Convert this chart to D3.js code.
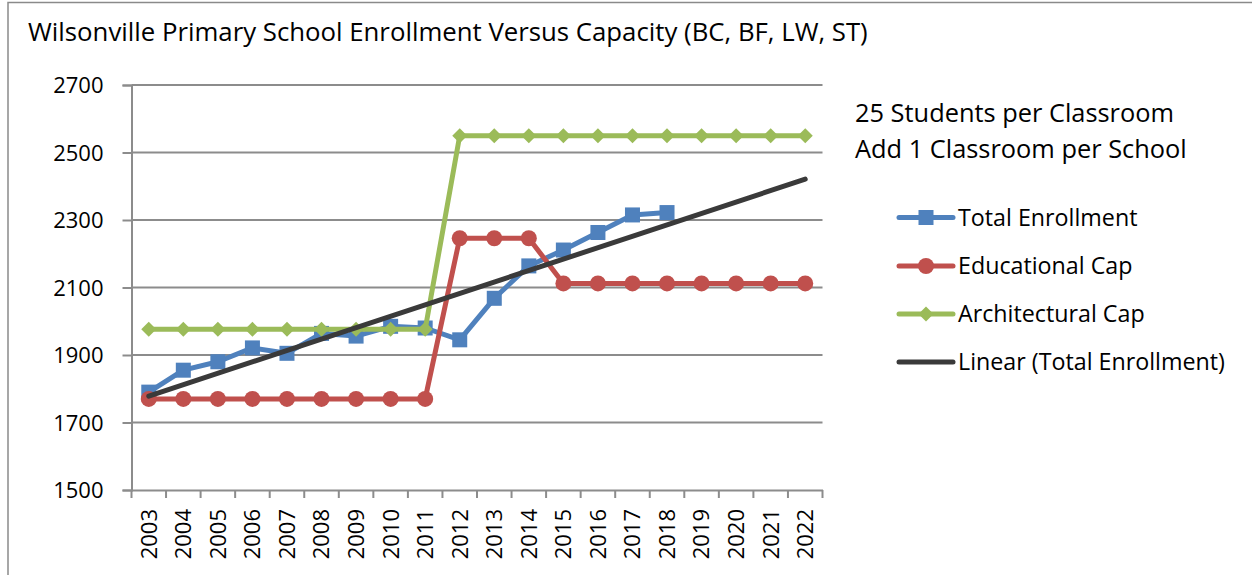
<!DOCTYPE html>
<html>
<head>
<meta charset="utf-8">
<script src="https://cdn.jsdelivr.net/npm/d3@7"></script>
<style>
  html, body { margin: 0; padding: 0; background: #fff; }
  svg { display: block; }
  text { font-family: "Open Sans", Lato, sans-serif; fill: #000; }
</style>
</head>
<body>
<svg id="chart" width="1252" height="575"></svg>
<script>
// ---- data ----
const years = ["2003","2004","2005","2006","2007","2008","2009","2010","2011","2012",
               "2013","2014","2015","2016","2017","2018","2019","2020","2021","2022"];
const totalEnrollment = [1790,1855,1880,1921,1905,1964,1956,1985,1980,1945,
                         2068,2164,2211,2263,2315,2322];
const educationalCap = [1770,1770,1770,1770,1770,1770,1770,1770,1770,2246,
                        2246,2246,2112,2112,2112,2112,2112,2112,2112,2112];
const architecturalCap = [1976,1976,1976,1976,1976,1976,1976,1976,1976,2550,
                          2550,2550,2550,2550,2550,2550,2550,2550,2550,2550];
const trendYears = ["2003","2022"];
const trendValues = [1778, 2421];
const yTicks = [1500,1700,1900,2100,2300,2500,2700];
const seriesNames = ["Total Enrollment","Educational Cap","Architectural Cap","Linear (Total Enrollment)"];
const titleText = "Wilsonville Primary School Enrollment Versus Capacity (BC, BF, LW, ST)";
const noteLines = ["25 Students per Classroom","Add 1 Classroom per School"];

// ---- layout ----
const svg = d3.select("#chart");
const plot = {left: 131.5, right: 822.5, top: 85, bottom: 490};
const blue = "#4F81BD", red = "#C0504D", green = "#9BBB59", dark = "#3a3a3a";
const gridColor = "#8c8c8c";

// fit a text element's font size so that its width matches a target
function fitSize(sel, target, base) {
  sel.attr("font-size", base);
  const w = sel.node().getComputedTextLength();
  const s = base * target / w;
  return s;
}

// outer border
svg.append("rect").attr("x", 8).attr("y", 2.5).attr("width", 1400).attr("height", 700)
  .attr("fill", "none").attr("stroke", "#8a8a8a").attr("stroke-width", 1.5);

const x = d3.scaleBand().domain(years).range([plot.left, plot.right]).padding(0);
const xc = d => x(d) + x.bandwidth() / 2;
const y = d3.scaleLinear().domain([1500, 2700]).range([plot.bottom, plot.top]);

// gridlines
svg.append("g").selectAll("line").data(yTicks.slice(1)).join("line")
  .attr("x1", plot.left).attr("x2", plot.right)
  .attr("y1", d => y(d)).attr("y2", d => y(d))
  .attr("stroke", gridColor).attr("stroke-width", 2);

// y axis
const yAxis = svg.append("g").attr("transform", `translate(${plot.left},0)`)
  .call(d3.axisLeft(y).tickValues(yTicks).tickSize(9).tickPadding(19).tickFormat(d3.format("d")));
yAxis.select(".domain").attr("stroke", gridColor).attr("stroke-width", 2);
yAxis.selectAll(".tick line").attr("stroke", gridColor).attr("stroke-width", 2);
yAxis.selectAll(".tick text").attr("font-family", "Lato, sans-serif").attr("font-size", 22)
  .attr("fill", "#000").attr("dy", "0.35em");

// x axis
const xAxis = svg.append("g").attr("transform", `translate(0,${plot.bottom})`)
  .call(d3.axisBottom(x).tickSize(0).tickFormat(d => d));
xAxis.select(".domain").attr("stroke", gridColor).attr("stroke-width", 2);
xAxis.selectAll(".tick line").remove();
svg.append("g").selectAll("line").data(years.concat(["end"])).join("line")
  .attr("x1", (d, i) => i < years.length ? x(d) : plot.right)
  .attr("x2", (d, i) => i < years.length ? x(d) : plot.right)
  .attr("y1", plot.bottom).attr("y2", plot.bottom + 8)
  .attr("stroke", gridColor).attr("stroke-width", 2);
xAxis.selectAll(".tick text")
  .attr("font-family", "'DejaVu Sans', sans-serif").attr("font-size", 22).attr("fill", "#000")
  .attr("transform", "rotate(-90)")
  .attr("text-anchor", "end").attr("x", -19).attr("y", 0).attr("dy", "0.36em");

// lines
const lineGen = (data) => d3.line().x((d, i) => xc(years[i])).y(d => y(d))(data);
function drawSeries(values, color) {
  svg.append("path").attr("d", lineGen(values)).attr("fill", "none")
    .attr("stroke", color).attr("stroke-width", 5).attr("stroke-linejoin", "round").attr("stroke-linecap", "round");
}
drawSeries(totalEnrollment, blue);
svg.append("g").selectAll("rect").data(totalEnrollment).join("rect")
  .attr("x", (d, i) => xc(years[i]) - 7.5).attr("y", d => y(d) - 7.5)
  .attr("width", 15).attr("height", 15).attr("fill", blue);

drawSeries(educationalCap, red);
svg.append("g").selectAll("circle").data(educationalCap).join("circle")
  .attr("cx", (d, i) => xc(years[i])).attr("cy", d => y(d)).attr("r", 8).attr("fill", red);

drawSeries(architecturalCap, green);
const diamond = (cx, cy, r) => `M${cx},${cy - r}L${cx + r},${cy}L${cx},${cy + r}L${cx - r},${cy}Z`;
svg.append("g").selectAll("path").data(architecturalCap).join("path")
  .attr("d", (d, i) => diamond(xc(years[i]), y(d), 7.5)).attr("fill", green);

// trendline
svg.append("path")
  .attr("d", d3.line().x((d, i) => xc(trendYears[i])).y(d => y(d))(trendValues))
  .attr("fill", "none").attr("stroke", dark).attr("stroke-width", 5).attr("stroke-linecap", "round");

// title
const title = svg.append("text").attr("x", 28).attr("y", 41).text(titleText);
title.attr("font-size", fitSize(title, 840, 24));

// note
const notes = svg.selectAll(".note").data(noteLines).join("text").attr("class", "note")
  .attr("x", 855).attr("y", (d, i) => 122 + i * 36).text(d => d);
const noteSize = fitSize(notes.filter((d, i) => i === 1), 332, 24);
notes.attr("font-size", noteSize);

// legend
const legendY = [217.5, 266, 314, 362];
const leg = svg.append("g");
const legTexts = [];
seriesNames.forEach((name, i) => {
  const cy = legendY[i];
  const color = [blue, red, green, dark][i];
  leg.append("line").attr("x1", 899).attr("x2", 953).attr("y1", cy).attr("y2", cy)
    .attr("stroke", color).attr("stroke-width", 5).attr("stroke-linecap", "round");
  if (i === 0) leg.append("rect").attr("x", 926 - 7.5).attr("y", cy - 7.5).attr("width", 15).attr("height", 15).attr("fill", color);
  if (i === 1) leg.append("circle").attr("cx", 926).attr("cy", cy).attr("r", 8).attr("fill", color);
  if (i === 2) leg.append("path").attr("d", diamond(926, cy, 7.5)).attr("fill", color);
  legTexts.push(leg.append("text").attr("x", 958).attr("y", cy).attr("dy", "0.35em").text(name));
});
const legSize = fitSize(legTexts[3], 267, 24);
legTexts.forEach(t => t.attr("font-size", legSize));
</script>
</body>
</html>
